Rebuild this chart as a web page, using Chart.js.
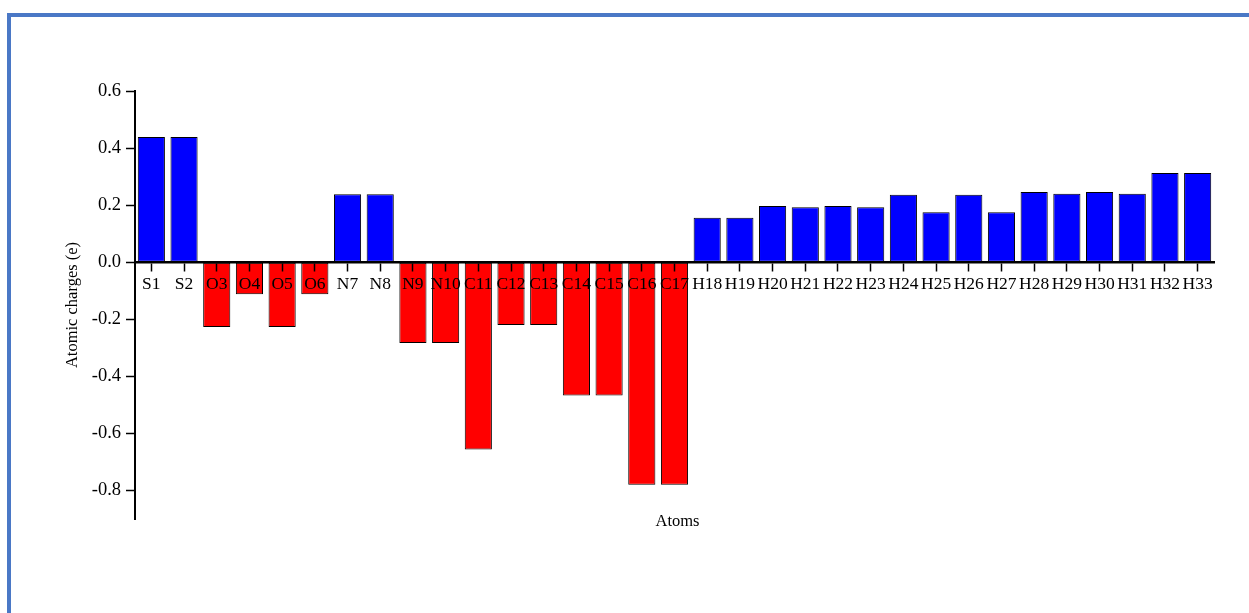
<!DOCTYPE html>
<html>
<head>
<meta charset="utf-8">
<title>Atomic charges</title>
<script src="https://cdn.jsdelivr.net/npm/chart.js@4/dist/chart.umd.min.js"></script>
<style>
  html, body { margin: 0; padding: 0; background: #ffffff; overflow: hidden; }
  #wrap { position: relative; width: 1249px; height: 613px; }
  #frame {
    position: absolute; left: 7px; top: 13px; width: 1300px; height: 700px;
    border-left: 4px solid #4a78c6; border-top: 4px solid #4a78c6;
    box-sizing: border-box; pointer-events: none;
  }
  canvas { position: absolute; left: 0; top: 0; }
</style>
</head>
<body>
<div id="wrap">
  <canvas id="chart" width="1249" height="613"></canvas>
  <div id="frame"></div>
</div>
<script>
// Atom labels along the x axis
const atoms = ['S1','S2','O3','O4','O5','O6','N7','N8','N9','N10','C11','C12','C13','C14','C15','C16','C17',
               'H18','H19','H20','H21','H22','H23','H24','H25','H26','H27','H28','H29','H30','H31','H32','H33'];

// Atomic charge of each atom (e)
const charges = [0.439, 0.439, -0.227, -0.112, -0.227, -0.112, 0.238, 0.238, -0.283, -0.283,
                 -0.656, -0.220, -0.220, -0.467, -0.467, -0.780, -0.780,
                 0.156, 0.156, 0.197, 0.193, 0.197, 0.193, 0.236, 0.175, 0.236, 0.175,
                 0.246, 0.240, 0.246, 0.240, 0.313, 0.313];

// Tick values shown on the charge axis
const yTickValues = [0.6, 0.4, 0.2, 0.0, -0.2, -0.4, -0.6, -0.8];

const POSITIVE = '#0000ff';
const NEGATIVE = '#ff0000';
const barColors = charges.map(v => (v >= 0 ? POSITIVE : NEGATIVE));

const serif = 'Liberation Serif, Times New Roman, serif';

// Draws the x-axis caption under the plot
const xCaption = {
  id: 'xCaption',
  afterDraw(chart) {
    const { ctx, chartArea } = chart;
    ctx.save();
    ctx.font = '16.5px ' + serif;
    ctx.fillStyle = '#000';
    ctx.textAlign = 'center';
    ctx.textBaseline = 'middle';
    ctx.fillText('Atoms', (chartArea.left + chartArea.right) / 2 + 3, chartArea.bottom + 3);
    ctx.restore();
  }
};

new Chart(document.getElementById('chart'), {
  type: 'bar',
  data: {
    labels: atoms,
    datasets: [{
      data: charges,
      backgroundColor: barColors,
      borderColor: '#000',
      borderWidth: 1,
      borderSkipped: false,
      barPercentage: 0.83,
      categoryPercentage: 1.0
    }]
  },
  options: {
    responsive: false,
    animation: false,
    devicePixelRatio: 1,
    layout: { padding: { top: 91, bottom: 94, left: 59, right: 35 } },
    plugins: {
      legend: { display: false },
      tooltip: { enabled: false }
    },
    scales: {
      x: {
        type: 'category',
        position: { y: 0 },
        offset: true,
        grid: {
          display: true,
          offset: false,
          drawOnChartArea: false,
          drawTicks: true,
          tickLength: 8,
          tickWidth: 1.5,
          tickColor: '#000',
          color: '#000',
          z: 1
        },
        border: { display: true, color: '#000', width: 2.5, z: 1 },
        ticks: {
          color: '#000',
          font: { family: serif, size: 17.5 },
          maxRotation: 0,
          minRotation: 0,
          autoSkip: false,
          padding: 4,
          z: 1
        },
        afterFit(scale) { scale.height = 0; }
      },
      y: {
        min: -0.9,
        max: 0.6,
        afterBuildTicks(scale) {
          scale.ticks = yTickValues.map(v => ({ value: v }));
        },
        grid: {
          display: true,
          drawOnChartArea: false,
          drawTicks: true,
          tickLength: 9,
          tickWidth: 1.5,
          tickColor: '#000',
          color: '#000'
        },
        border: { display: true, color: '#000', width: 2 },
        ticks: {
          color: '#000',
          font: { family: serif, size: 18.5 },
          padding: 5,
          callback: v => Number(v).toFixed(1)
        },
        title: {
          display: true,
          text: 'Atomic charges (e)',
          color: '#000',
          font: { family: serif, size: 16.5 },
          padding: 4
        },
        afterFit(scale) { scale.width = 76; }
      }
    }
  },
  plugins: [xCaption]
});
</script>
</body>
</html>
